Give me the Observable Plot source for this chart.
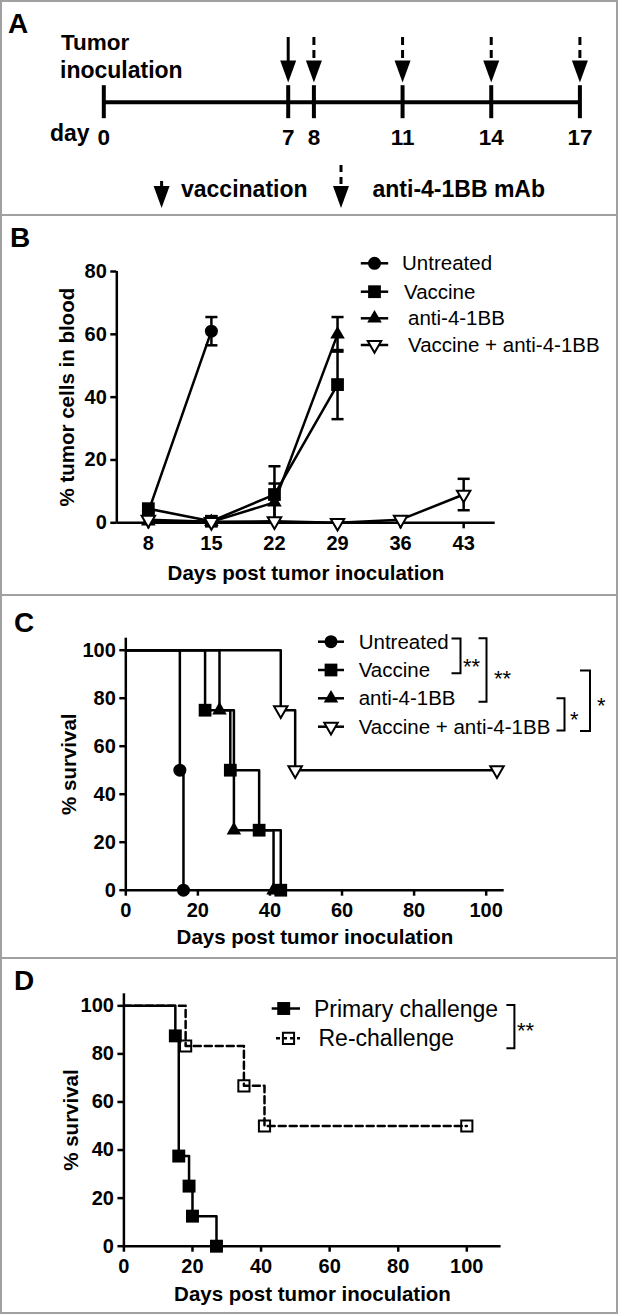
<!DOCTYPE html>
<html><head><meta charset="utf-8">
<script src="https://cdn.jsdelivr.net/npm/d3@7"></script>
<script src="https://cdn.jsdelivr.net/npm/@observablehq/plot@0.6"></script>
<style>
body{margin:0;background:#fff;}
#fig{position:relative;width:618px;height:1315px;overflow:hidden;font-family:"Liberation Sans",Arial,Helvetica,sans-serif;}
.panel{position:absolute;left:0;width:618px;}
.panel svg{display:block;}
#overlay{position:absolute;left:0;top:0;}
</style></head><body><div id="fig"></div>
<script>
// ---------- Panel A: treatment schedule ----------
const timelineDays = [0, 7, 8, 11, 14, 17];
const vaccinationDays = [7];
const antibodyDays = [8, 11, 14, 17];

// ---------- Panel B: % tumor cells in blood ----------
const bDays = [8, 15, 22, 29, 36, 43];
const bYTicks = [0, 20, 40, 60, 80];
const bUntreatedDays = [8, 15];
const bUntreatedMean = [3.5, 61];
const bUntreatedSem  = [0, 4.5];
const bVaccineDays = [8, 15, 22, 29];
const bVaccineMean = [4.5, 0.5, 9, 44];
const bVaccineSem  = [0, 0, 9, 11];
const bAntiDays = [8, 15, 22, 29];
const bAntiMean = [0.5, 0.3, 6.5, 60];
const bAntiSem  = [0, 0, 6, 5.5];
const bComboDays = [8, 15, 22, 29, 36, 43];
const bComboMean = [1, 0.3, 0.5, 0, 1, 9];
const bComboSem  = [0, 0, 0, 0, 0, 5];

// ---------- Panel C: survival ----------
const survTicks = [0, 20, 40, 60, 80, 100];
const cUntreatedTimes = [15, 16];
const cUntreatedSurv  = [50, 0];
const cVaccineTimes = [22, 29, 37, 43];
const cVaccineSurv  = [75, 50, 25, 0];
const cAntiTimes = [26, 30, 41];
const cAntiSurv  = [75, 25, 0];
const cComboTimes = [43, 47, 103];
const cComboSurv  = [75, 50, 50];

// ---------- Panel D: re-challenge survival ----------
const dPrimaryTimes = [15, 16, 19, 20, 27];
const dPrimarySurv  = [87.5, 37.5, 25, 12.5, 0];
const dRechallengeTimes = [18, 35, 41, 100];
const dRechallengeSurv  = [83.3, 66.7, 50, 50];

const groupNames = ["Untreated", "Vaccine", "anti-4-1BB", "Vaccine + anti-4-1BB"];
const dNames = ["Primary challenge", "Re-challenge"];

// ---------- helpers ----------
const FONT = '"Liberation Sans", Arial, Helvetica, sans-serif';
const baseStyle = {fontFamily: FONT, fontSize: "20px", fontWeight: "bold", color: "black", background: "transparent", overflow: "visible"};
const downTriangle = {draw(ctx, size) { const y = Math.sqrt(size / (3 * Math.sqrt(3))); ctx.moveTo(0, 2 * y); ctx.lineTo(-Math.sqrt(3) * y, -y); ctx.lineTo(Math.sqrt(3) * y, -y); ctx.closePath(); }};
const capSymbol = {draw(ctx, size) { const w = Math.sqrt(size) / 2; ctx.moveTo(-w, 0); ctx.lineTo(w, 0); }};
const arrowHead = {draw(ctx) { ctx.moveTo(-8, -22); ctx.lineTo(8, -22); ctx.lineTo(0, 0); ctx.closePath(); }};

const markerStyle = {
  "Untreated": {symbol: "circle", r: 6.5, fill: "black", strokeWidth: 0},
  "Vaccine": {symbol: "square", r: 7.2, fill: "black", strokeWidth: 0},
  "anti-4-1BB": {symbol: "triangle", r: 5.4, fill: "black", strokeWidth: 0},
  "Vaccine + anti-4-1BB": {symbol: downTriangle, r: 5.0, fill: "white", strokeWidth: 2},
  "Primary challenge": {symbol: "square", r: 7.3, fill: "black", strokeWidth: 0},
  "Re-challenge": {symbol: "square", r: 6.3, fill: "none", strokeWidth: 2}
};
function dotsFor(rows, name, x, y) {
  const m = markerStyle[name];
  return Plot.dot(rows.filter(d => d.group === name), {x, y, symbol: m.symbol, r: m.r, fill: m.fill, stroke: "black", strokeWidth: m.strokeWidth});
}

const fig = document.getElementById("fig");
function addPanel(svg, top) {
  const div = document.createElement("div");
  div.className = "panel"; div.style.top = top + "px";
  div.appendChild(svg); fig.appendChild(div);
}

// ---------- Panel A ----------
const plotA = Plot.plot({
  width: 618, height: 215, margin: 0,
  x: {type: "linear", domain: [0, 7, 8, 17], range: [103.3, 287.7, 313.4, 579.4], axis: null},
  y: {type: "linear", domain: [-1, 1], range: [134.7, 68.7], axis: null},
  style: baseStyle,
  marks: [
    Plot.ruleY([0], {x1: d3.min(timelineDays), x2: d3.max(timelineDays), strokeWidth: 4}),
    Plot.ruleX(timelineDays, {y1: -0.5, y2: 0.5, strokeWidth: 4}),
    Plot.text(timelineDays, {x: d => d, y: -1.3, text: d => String(d), lineAnchor: "bottom", fontSize: 22.5}),
    Plot.ruleX(vaccinationDays, {y1: 1.96, y2: 1.2, strokeWidth: 3}),
    Plot.ruleX(antibodyDays, {y1: 1.96, y2: 1.26, strokeWidth: 3, strokeDasharray: "8,5"}),
    Plot.dot(vaccinationDays.concat(antibodyDays), {x: d => d, y: 0.6, symbol: arrowHead, r: 5, fill: "black", stroke: "none"})
  ]
});
addPanel(plotA, 0);

// ---------- Panel B ----------
const bSeries = [
  {name: "Untreated", days: bUntreatedDays, mean: bUntreatedMean, sem: bUntreatedSem},
  {name: "Vaccine", days: bVaccineDays, mean: bVaccineMean, sem: bVaccineSem},
  {name: "anti-4-1BB", days: bAntiDays, mean: bAntiMean, sem: bAntiSem},
  {name: "Vaccine + anti-4-1BB", days: bComboDays, mean: bComboMean, sem: bComboSem}
];
const bRows = bSeries.flatMap(s => s.days.map((d, i) => ({group: s.name, day: d, mean: s.mean[i], sem: s.sem[i]})));
const bErr = bRows.filter(d => d.sem > 0);
const plotB = Plot.plot({
  width: 618, height: 380,
  marginTop: 56, marginBottom: 72.7, marginLeft: 116.3, marginRight: 123.3,
  x: {domain: [4.5, 46.5]},
  y: {domain: [0, 80]},
  style: baseStyle,
  marks: [
    Plot.ruleX([4.5], {strokeWidth: 2.5}),
    Plot.ruleY([0], {strokeWidth: 2.5}),
    Plot.axisY({ticks: bYTicks, tickSize: 6, tickPadding: 4, strokeWidth: 2.5, label: null}),
    Plot.axisX({ticks: bDays, tickSize: 6, tickPadding: 7, strokeWidth: 2.5, label: null}),
    Plot.text(["Days post tumor inoculation"], {text: d => d, frameAnchor: "bottom", lineAnchor: "bottom", dy: 56.7, fontSize: 20.5}),
    Plot.text(["% tumor cells in blood"], {text: d => d, frameAnchor: "left", textAnchor: "middle", rotate: -90, lineAnchor: "bottom", dx: -43.3, fontSize: 20.5}),
    Plot.line(bRows, {x: "day", y: "mean", z: "group", stroke: "black", strokeWidth: 2.5}),
    Plot.ruleX(bErr, {x: "day", y1: d => d.mean - d.sem, y2: d => d.mean + d.sem, strokeWidth: 2.5}),
    Plot.dot(bErr, {x: "day", y: d => d.mean + d.sem, symbol: capSymbol, r: 6.8, fill: "none", stroke: "black", strokeWidth: 2.5}),
    Plot.dot(bErr, {x: "day", y: d => d.mean - d.sem, symbol: capSymbol, r: 6.8, fill: "none", stroke: "black", strokeWidth: 2.5}),
    ...groupNames.map(n => dotsFor(bRows, n, "day", "mean"))
  ]
});
addPanel(plotB, 215);

// ---------- Panel C ----------
const cSeries = [
  {name: "Untreated", t: cUntreatedTimes, s: cUntreatedSurv},
  {name: "Vaccine", t: cVaccineTimes, s: cVaccineSurv},
  {name: "anti-4-1BB", t: cAntiTimes, s: cAntiSurv},
  {name: "Vaccine + anti-4-1BB", t: cComboTimes, s: cComboSurv}
];
const cEvents = cSeries.flatMap(g => g.t.map((t, i) => ({group: g.name, t, s: g.s[i]})));
const cSteps = cSeries.flatMap(g => [{group: g.name, t: 0, s: 100}, ...g.t.map((t, i) => ({group: g.name, t, s: g.s[i]}))]);
const plotC = Plot.plot({
  width: 618, height: 363,
  marginTop: 42.7, marginBottom: 68.3, marginLeft: 125.3, marginRight: 114.3,
  x: {domain: [0, 105]},
  y: {domain: [0, 105]},
  style: baseStyle,
  marks: [
    Plot.ruleX([0], {strokeWidth: 2.5}),
    Plot.ruleY([0], {strokeWidth: 2.5}),
    Plot.axisY({ticks: survTicks, tickSize: 6, tickPadding: 4, strokeWidth: 2.5, label: null}),
    Plot.axisX({ticks: survTicks, tickSize: 6, tickPadding: 7, strokeWidth: 2.5, label: null}),
    Plot.text(["Days post tumor inoculation"], {text: d => d, frameAnchor: "bottom", lineAnchor: "bottom", dy: 53.3, fontSize: 20.5}),
    Plot.text(["% survival"], {text: d => d, frameAnchor: "left", textAnchor: "middle", rotate: -90, lineAnchor: "bottom", dx: -50.3, fontSize: 20.5}),
    Plot.line(cSteps, {x: "t", y: "s", z: "group", curve: "step-after", stroke: "black", strokeWidth: 2.5}),
    ...groupNames.map(n => dotsFor(cEvents, n, "t", "s"))
  ]
});
addPanel(plotC, 595);

// ---------- Panel D ----------
const dSeries = [
  {name: "Primary challenge", t: dPrimaryTimes, s: dPrimarySurv},
  {name: "Re-challenge", t: dRechallengeTimes, s: dRechallengeSurv}
];
const dEvents = dSeries.flatMap(g => g.t.map((t, i) => ({group: g.name, t, s: g.s[i]})));
const dSteps = dSeries.flatMap(g => [{group: g.name, t: 0, s: 100}, ...g.t.map((t, i) => ({group: g.name, t, s: g.s[i]}))]);
const plotD = Plot.plot({
  width: 618, height: 357,
  marginTop: 35.3, marginBottom: 69.3, marginLeft: 123.4, marginRight: 117.4,
  x: {domain: [0, 110]},
  y: {domain: [0, 105]},
  style: baseStyle,
  marks: [
    Plot.ruleX([0], {strokeWidth: 2.5}),
    Plot.ruleY([0], {strokeWidth: 2.5}),
    Plot.axisY({ticks: survTicks, tickSize: 6, tickPadding: 4, strokeWidth: 2.5, label: null}),
    Plot.axisX({ticks: survTicks, tickSize: 6, tickPadding: 7, strokeWidth: 2.5, label: null}),
    Plot.text(["Days post tumor inoculation"], {text: d => d, frameAnchor: "bottom", lineAnchor: "bottom", dy: 54.3, fontSize: 20.5}),
    Plot.text(["% survival"], {text: d => d, frameAnchor: "left", textAnchor: "middle", rotate: -90, lineAnchor: "bottom", dx: -46.4, fontSize: 20.5}),
    Plot.line(dSteps.filter(d => d.group === "Re-challenge"), {x: "t", y: "s", curve: "step-after", stroke: "black", strokeWidth: 2.5, strokeDasharray: "7,4"}),
    Plot.line(dSteps.filter(d => d.group === "Primary challenge"), {x: "t", y: "s", curve: "step-after", stroke: "black", strokeWidth: 2.5}),
    ...dNames.map(n => dotsFor(dEvents, n, "t", "s"))
  ]
});
addPanel(plotD, 958);

// ---------- Overlay: borders, panel letters, legends, annotations ----------
const ov = d3.select(fig).append("svg").attr("id", "overlay").attr("width", 618).attr("height", 1315).style("font-family", FONT);
ov.append("rect").attr("x", 1).attr("y", 1).attr("width", 616).attr("height", 1312).attr("fill", "none").attr("stroke", "#a0a0a0").attr("stroke-width", 2);
[215, 595, 958].forEach(y => ov.append("line").attr("x1", 0).attr("x2", 618).attr("y1", y).attr("y2", y).attr("stroke", "#a0a0a0").attr("stroke-width", 2));

function txt(x, y, s, size, weight, anchor) {
  return ov.append("text").attr("x", x).attr("y", y).attr("font-size", size).attr("font-weight", weight || "bold").attr("text-anchor", anchor || "start").attr("fill", "black").text(s);
}
[["A", 8, 33], ["B", 10, 247], ["C", 14, 632], ["D", 14, 990]].forEach(([l, x, y]) => txt(x, y, l, 28, "bold"));

// Panel A annotations
txt(61, 50, "Tumor", 22.5); txt(60, 78, "inoculation", 23); txt(50, 141, "day", 23);
function legendArrow(x, dashed) {
  ov.append("line").attr("x1", x).attr("x2", x).attr("y1", dashed ? 165 : 181).attr("y2", 187).attr("stroke", "black").attr("stroke-width", 3).attr("stroke-dasharray", dashed ? "7,5" : null);
  ov.append("path").attr("d", `M${x - 8},186L${x + 8},186L${x},208Z`).attr("fill", "black");
}
legendArrow(161.6, false); txt(181, 197, "vaccination", 23);
legendArrow(341, true); txt(372.5, 197, "anti-4-1BB mAb", 23);

// legends
function legendItem(x, y, name, x1, x2, textX, label, size, dashed) {
  const m = markerStyle[name];
  ov.append("line").attr("x1", x1).attr("x2", x2).attr("y1", y).attr("y2", y).attr("stroke", "black").attr("stroke-width", 2.5).attr("stroke-dasharray", dashed ? "4,3" : null);
  const type = typeof m.symbol === "string" ? {circle: d3.symbolCircle, square: d3.symbolSquare, triangle: d3.symbolTriangle}[m.symbol] : m.symbol;
  ov.append("path").attr("transform", `translate(${x},${y})`).attr("d", d3.symbol(type, Math.PI * m.r * m.r)()).attr("fill", m.fill).attr("stroke", "black").attr("stroke-width", m.strokeWidth);
  txt(textX, y, label, size, "normal").attr("dy", "0.35em");
}
const bRowsY = [263.3, 291.7, 318.3, 345];
const bTextX = [402, 404, 408, 408];
groupNames.forEach((n, i) => legendItem(374.5, bRowsY[i], n, 360.8, 388.2, bTextX[i], n, 20.5));
const cRowsY = [641.7, 670, 698.3, 726.7];
groupNames.forEach((n, i) => legendItem(331, cRowsY[i], n, 318, 344, 358.7, n, 20.5));
legendItem(283.7, 1008.5, dNames[0], 271.7, 300, 314, dNames[0], 23, false);
legendItem(288.5, 1038.3, dNames[1], 276, 300, 318.5, dNames[1], 23, true);

// significance brackets
function bracket(x, y1, y2, arm, starX, starY, stars) {
  ov.append("path").attr("d", `M${x - arm},${y1}H${x}V${y2}H${x - arm}`).attr("fill", "none").attr("stroke", "black").attr("stroke-width", 2);
  txt(starX, starY + 12.5, stars, 22, "normal");
}
bracket(460.5, 638.5, 673.3, 9, 463, 661, "**");
bracket(486.5, 638.3, 701.7, 8, 494, 673, "**");
bracket(564.5, 698.3, 730.5, 8, 570, 714, "*");
bracket(590, 670.5, 731, 10, 597, 700, "*");
bracket(514.4, 1005, 1048.3, 8, 517, 1025, "**");
</script></body></html>
